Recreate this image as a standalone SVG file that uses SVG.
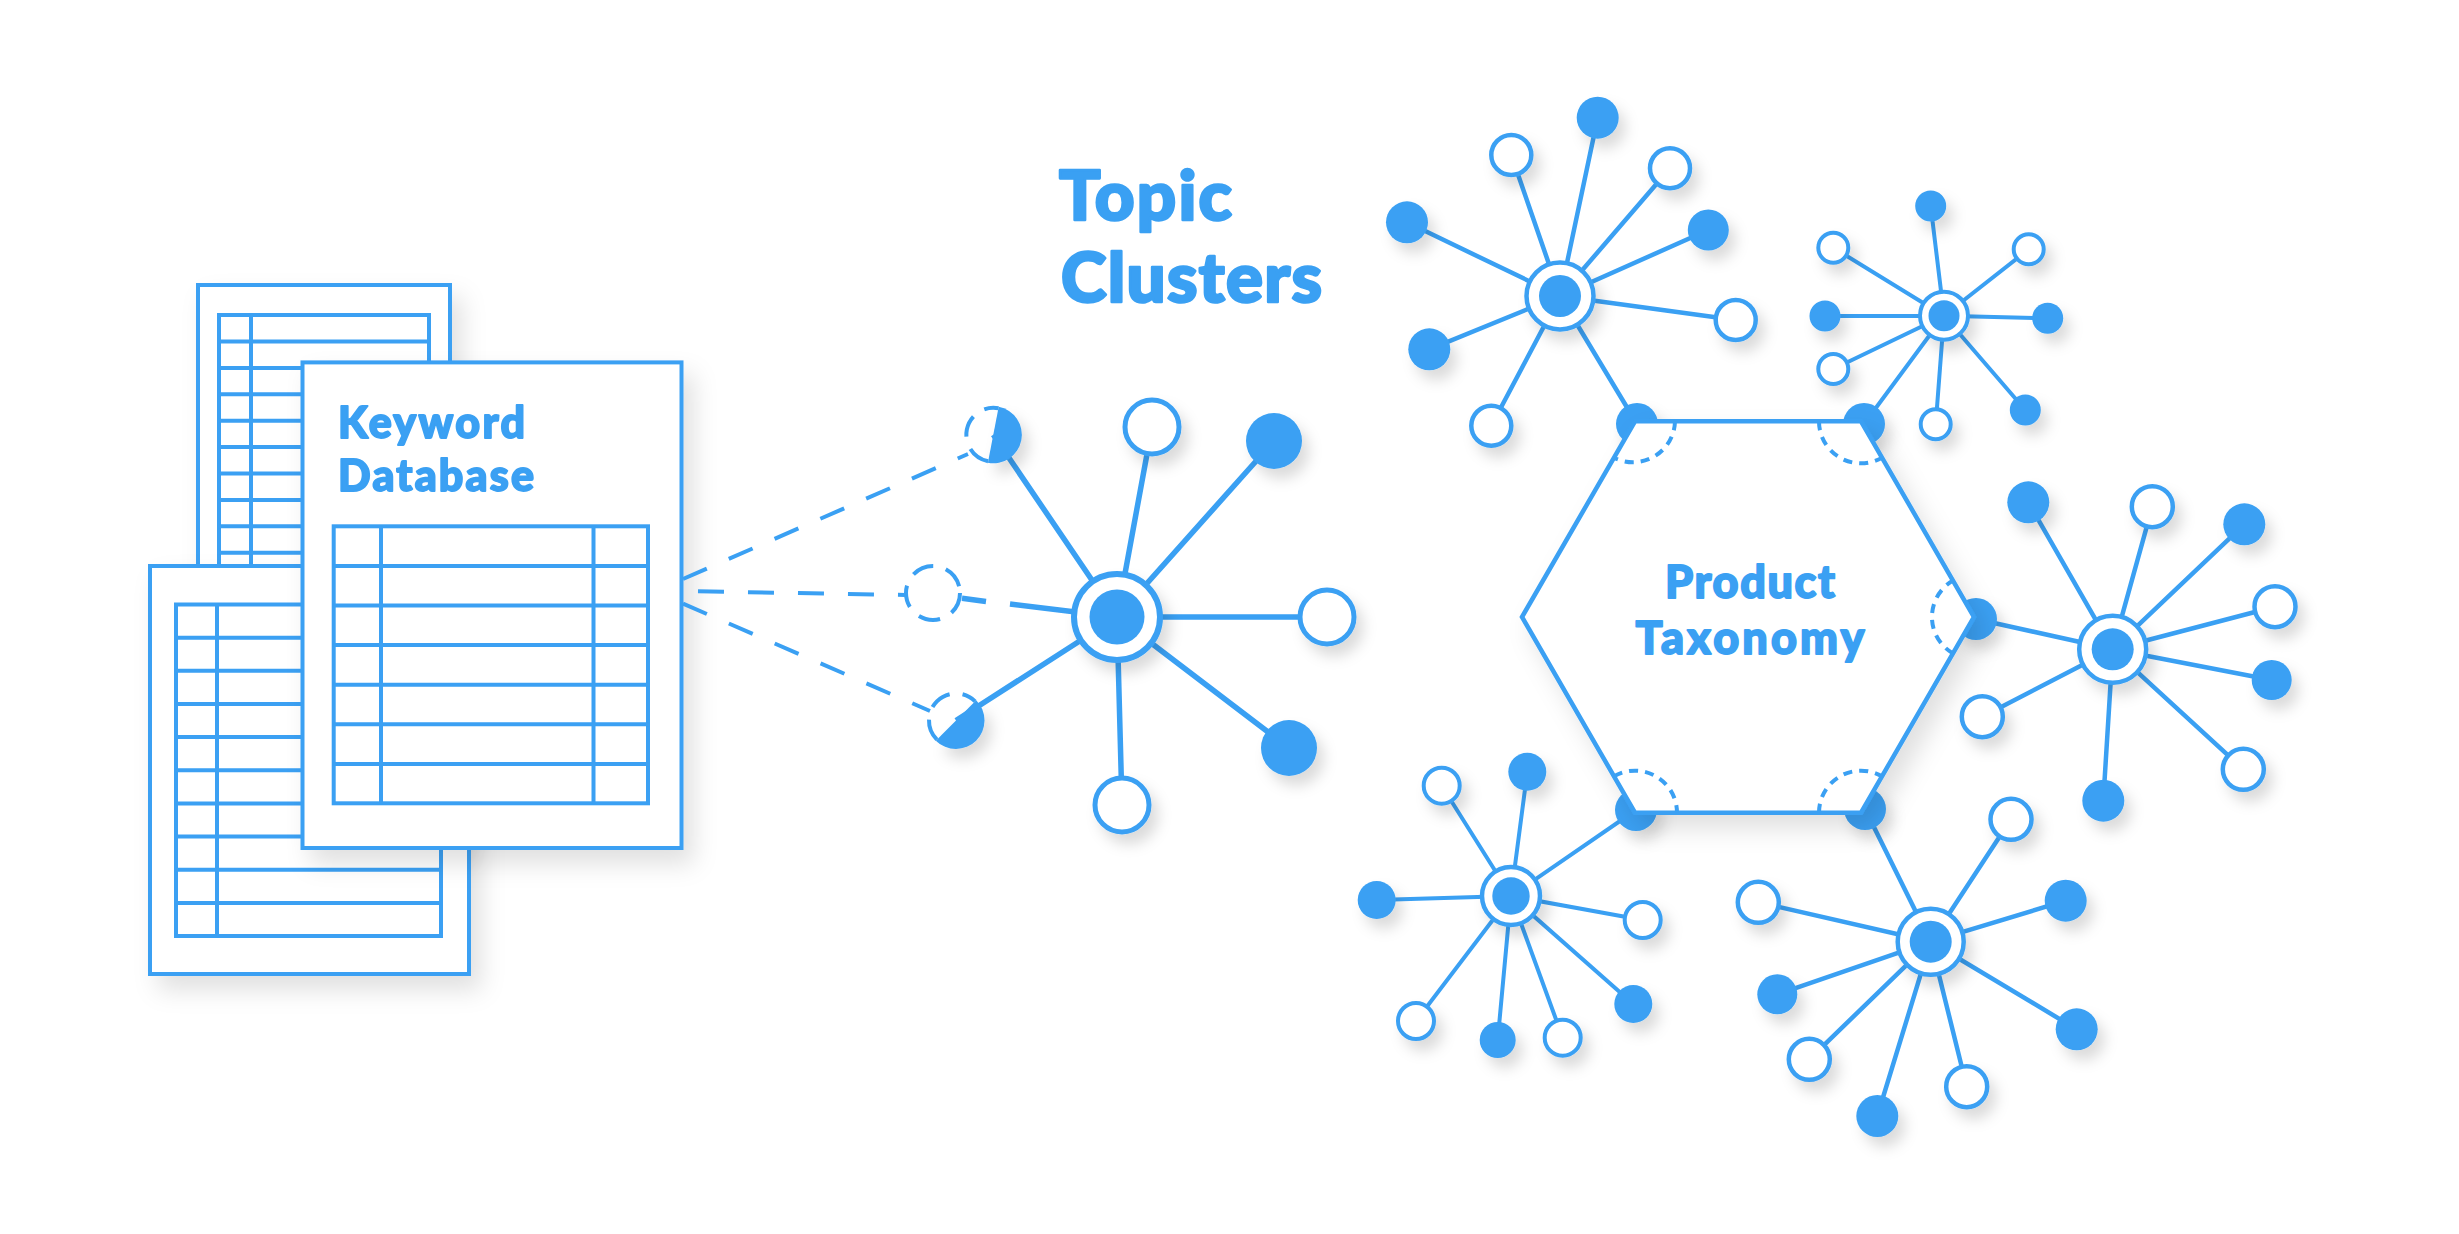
<svg xmlns="http://www.w3.org/2000/svg" width="2459" height="1234" viewBox="0 0 2459 1234">
<defs>
<style>
.ln{stroke:#3aa0f3;fill:none;stroke-linecap:butt}
.s6{stroke-width:5.5}
.s45{stroke-width:4.5}
.s4{stroke-width:4}
.dash{stroke:#3aa0f3;stroke-width:4;fill:none;stroke-dasharray:26 24}
.dc{stroke:#3aa0f3;stroke-width:4;fill:none;stroke-dasharray:22 13}
.arc{stroke:#3aa0f3;stroke-width:4;fill:none;stroke-dasharray:9 7}
.f{fill:#3aa0f3}
.w{fill:#fff;stroke:#3aa0f3}
.doc{fill:#fff;stroke:#3aa0f3;stroke-width:4}
.tb{fill:none;stroke:#3aa0f3;stroke-width:4}
.t{font-family:Lato,"Liberation Sans",sans-serif;font-weight:900;fill:#3aa0f3;stroke:#3aa0f3;stroke-linejoin:round;stroke-width:1.8}
.tt{stroke-width:2.6}
</style>
<filter id="sh" x="-60%" y="-60%" width="220%" height="220%"><feDropShadow dx="7" dy="10" stdDeviation="7" flood-color="#000" flood-opacity="0.14"/></filter>
<filter id="dsh" x="-20%" y="-20%" width="150%" height="150%"><feDropShadow dx="10" dy="14" stdDeviation="12" flood-color="#000" flood-opacity="0.12"/></filter>
</defs>
<rect width="2459" height="1234" fill="#fff"/>

<g id="doc-back" filter="url(#dsh)">
<rect class="doc" x="198" y="285" width="252" height="560"/>
<rect class="tb" x="219" y="315" width="210" height="520"/>
<path class="tb" d="M251 315V835M219 341.5H429M219 367.9H429M219 394.3H429M219 420.7H429M219 447.1H429M219 473.5H429M219 499.9H429M219 526.3H429M219 552.7H429M219 579.1H429"/>
</g>
<g id="doc-left" filter="url(#dsh)">
<rect class="doc" x="150" y="566" width="319" height="408"/>
<rect class="tb" x="176" y="604.5" width="265" height="331.5"/>
<path class="tb" d="M217 604.5V936M176 637.7H441M176 670.8H441M176 704H441M176 737.1H441M176 770.3H441M176 803.4H441M176 836.6H441M176 869.7H441M176 902.9H441"/>
</g>
<g id="doc-front" filter="url(#dsh)">
<rect class="doc" x="302.5" y="362.4" width="379" height="485.6"/>
<rect class="tb" x="333.7" y="526.3" width="314.3" height="277"/>
<path class="tb" d="M381 526.3V803.3M593.5 526.3V803.3M333.7 565.9H648M333.7 605.5H648M333.7 645.1H648M333.7 684.7H648M333.7 724.3H648M333.7 763.9H648"/>
<text class="t" x="338" y="438" font-size="43" textLength="187">Keyword</text>
<text class="t" x="338" y="490.5" font-size="43" textLength="196">Database</text>
</g>

<g id="title">
<text class="t tt" x="1059" y="220" font-size="69" textLength="173">Topic</text>
<text class="t tt" x="1061" y="302" font-size="69" textLength="261">Clusters</text>
</g>

<g id="connectors">
<path class="dash" d="M683 579L968 454"/>
<path class="dash" d="M683 591L905 595" stroke-dashoffset="35"/>
<path class="dash" d="M683 603.6L930 711"/>
<path class="ln s6" d="M1117 617L1152 427M1117 617L1274 441M1117 617L1327 617M1117 617L1289 748M1117 617L1122 805M1117 617L956 720.5M1117 617L993.3 434.8M1117 617L1010 604M986 601.5L962 598.3"/>
<path class="ln s45" d="M1560 296L1597.7 117.7M1560 296L1511.3 155M1560 296L1670 168.3M1560 296L1708.3 230M1560 296L1735.7 320M1560 296L1407 222.3M1560 296L1429.3 349.3M1560 296L1491.3 425.7M1560 296L1637 424"/>
<path class="ln s4" d="M1944 315.7L1930.7 206M1944 315.7L1833.3 247.7M1944 315.7L2028.7 249.3M1944 315.7L1825 316M1944 315.7L2047.7 318.3M1944 315.7L1833.3 369M1944 315.7L1935.7 424.3M1944 315.7L2025.3 410M1944 315.7L1864 424"/>
<path class="ln s45" d="M2112.7 649.3L2028.3 502.3M2112.7 649.3L2152.3 506.7M2112.7 649.3L2244.3 524.3M2112.7 649.3L2275 606.7M2112.7 649.3L2271.7 680M2112.7 649.3L2243.3 769.3M2112.7 649.3L2103.3 800.7M2112.7 649.3L1982.3 716.7M2112.7 649.3L1976 619"/>
<path class="ln s4" d="M1511 896L1441.7 785.7M1511 896L1527.3 771.7M1511 896L1376.7 900M1511 896L1642.7 920M1511 896L1633.3 1004M1511 896L1562.7 1037.7M1511 896L1497.7 1040M1511 896L1416 1021M1511 896L1636 810"/>
<path class="ln s45" d="M1930.7 941.7L2011 819.3M1930.7 941.7L2065.7 900.7M1930.7 941.7L2076.7 1029.3M1930.7 941.7L1966.7 1086.7M1930.7 941.7L1877.3 1116M1930.7 941.7L1809.3 1059.3M1930.7 941.7L1777.3 994.3M1930.7 941.7L1758.3 902.3M1930.7 941.7L1865 809"/>
</g>

<g id="taxonomy">
<g class="f" filter="url(#sh)">
<circle cx="1637" cy="424" r="21"/>
<circle cx="1864" cy="424" r="21"/>
<circle cx="1976" cy="619" r="21"/>
<circle cx="1865" cy="809" r="21"/>
<circle cx="1636" cy="810" r="21"/>
</g>
<polygon points="1522,617 1635,421.3 1861,421.3 1974,617 1861,812.7 1635,812.7" fill="#fff" stroke="#3aa0f3" stroke-width="4.5" stroke-linejoin="miter" filter="url(#dsh)"/>
<path class="arc" d="M1675 421.3A42 42 0 0 1 1614 457.7"/>
<path class="arc" d="M1819 421.3A42 42 0 0 0 1882 457.7"/>
<path class="arc" d="M1953 653.4A42 42 0 0 1 1953 580.6"/>
<path class="arc" d="M1819 812.7A42 42 0 0 1 1882 776.3"/>
<path class="arc" d="M1614 776.3A42 42 0 0 1 1677 812.7"/>
<text class="t" x="1750" y="598" font-size="45" text-anchor="middle" textLength="170">Product</text>
<text class="t" x="1750" y="654" font-size="45" text-anchor="middle" textLength="229">Taxonomy</text>
</g>

<g id="cluster-center">
<g filter="url(#sh)">
<circle id="c0-hub" class="w" cx="1117" cy="617" r="43" stroke-width="6"/>
<circle class="f" cx="1117" cy="617" r="27.5"/>
<circle id="c0-n1" class="w" cx="1152" cy="427" r="27" stroke-width="5"/>
<circle id="c0-n2" class="f" cx="1274" cy="441" r="28"/>
<circle id="c0-n3" class="w" cx="1327" cy="617" r="27" stroke-width="5"/>
<circle id="c0-n4" class="f" cx="1289" cy="748" r="28"/>
<circle id="c0-n5" class="w" cx="1122" cy="805" r="27" stroke-width="5"/>
<path id="c0-n6" class="f" d="M976.2 700.35A28.5 28.5 0 0 1 935.8 740.65Z"/>
<path id="c0-n7" class="f" d="M998.7 406.8A28.5 28.5 0 0 1 987.9 462.8Z"/>
</g>
<path class="dc" d="M936.9 739.6A27 27 0 0 1 975.1 701.4"/>
<path class="dc" d="M988.1 461.3A27 27 0 0 1 998.5 408.3"/>
<circle id="c0-n8" class="dc" cx="933" cy="593" r="27"/>
</g>

<g id="cluster-a" filter="url(#sh)">
<circle id="a-hub" class="w" cx="1560" cy="296" r="33.5" stroke-width="4.5"/>
<circle class="f" cx="1560" cy="296" r="21"/>
<circle class="f" cx="1597.7" cy="117.7" r="21"/>
<circle class="w" cx="1511.3" cy="155" r="20" stroke-width="4.5"/>
<circle class="w" cx="1670" cy="168.3" r="20" stroke-width="4.5"/>
<circle class="f" cx="1708.3" cy="230" r="20.5"/>
<circle class="w" cx="1735.7" cy="320" r="20" stroke-width="4.5"/>
<circle class="f" cx="1407" cy="222.3" r="21"/>
<circle class="f" cx="1429.3" cy="349.3" r="21"/>
<circle class="w" cx="1491.3" cy="425.7" r="20" stroke-width="4.5"/>
</g>

<g id="cluster-b" filter="url(#sh)">
<circle id="b-hub" class="w" cx="1944" cy="315.7" r="24" stroke-width="4"/>
<circle class="f" cx="1944" cy="315.7" r="15.5"/>
<circle class="f" cx="1930.7" cy="206" r="15.5"/>
<circle class="w" cx="1833.3" cy="247.7" r="15" stroke-width="4"/>
<circle class="w" cx="2028.7" cy="249.3" r="15" stroke-width="4"/>
<circle class="f" cx="1825" cy="316" r="15.5"/>
<circle class="f" cx="2047.7" cy="318.3" r="15.5"/>
<circle class="w" cx="1833.3" cy="369" r="15" stroke-width="4"/>
<circle class="w" cx="1935.7" cy="424.3" r="15" stroke-width="4"/>
<circle class="f" cx="2025.3" cy="410" r="15.5"/>
</g>

<g id="cluster-c" filter="url(#sh)">
<circle id="c-hub" class="w" cx="2112.7" cy="649.3" r="33.5" stroke-width="4.5"/>
<circle class="f" cx="2112.7" cy="649.3" r="21"/>
<circle class="f" cx="2028.3" cy="502.3" r="21"/>
<circle class="w" cx="2152.3" cy="506.7" r="20.5" stroke-width="4.5"/>
<circle class="f" cx="2244.3" cy="524.3" r="21"/>
<circle class="w" cx="2275" cy="606.7" r="20.5" stroke-width="4.5"/>
<circle class="f" cx="2271.7" cy="680" r="20"/>
<circle class="w" cx="2243.3" cy="769.3" r="20.5" stroke-width="4.5"/>
<circle class="f" cx="2103.3" cy="800.7" r="21"/>
<circle class="w" cx="1982.3" cy="716.7" r="20.5" stroke-width="4.5"/>
</g>

<g id="cluster-d" filter="url(#sh)">
<circle id="d-hub" class="w" cx="1511" cy="896" r="29" stroke-width="4.5"/>
<circle class="f" cx="1511" cy="896" r="18.7"/>
<circle class="w" cx="1441.7" cy="785.7" r="18" stroke-width="4"/>
<circle class="f" cx="1527.3" cy="771.7" r="19"/>
<circle class="f" cx="1376.7" cy="900" r="19"/>
<circle class="w" cx="1642.7" cy="920" r="18" stroke-width="4"/>
<circle class="f" cx="1633.3" cy="1004" r="19"/>
<circle class="w" cx="1562.7" cy="1037.7" r="18" stroke-width="4"/>
<circle class="f" cx="1497.7" cy="1040" r="18"/>
<circle class="w" cx="1416" cy="1021" r="18" stroke-width="4"/>
</g>

<g id="cluster-e" filter="url(#sh)">
<circle id="e-hub" class="w" cx="1930.7" cy="941.7" r="33" stroke-width="4.5"/>
<circle class="f" cx="1930.7" cy="941.7" r="21"/>
<circle class="w" cx="2011" cy="819.3" r="20.5" stroke-width="4.5"/>
<circle class="f" cx="2065.7" cy="900.7" r="21"/>
<circle class="f" cx="2076.7" cy="1029.3" r="21"/>
<circle class="w" cx="1966.7" cy="1086.7" r="20.5" stroke-width="4.5"/>
<circle class="f" cx="1877.3" cy="1116" r="21"/>
<circle class="w" cx="1809.3" cy="1059.3" r="20.5" stroke-width="4.5"/>
<circle class="f" cx="1777.3" cy="994.3" r="20"/>
<circle class="w" cx="1758.3" cy="902.3" r="20.5" stroke-width="4.5"/>
</g>
</svg>
